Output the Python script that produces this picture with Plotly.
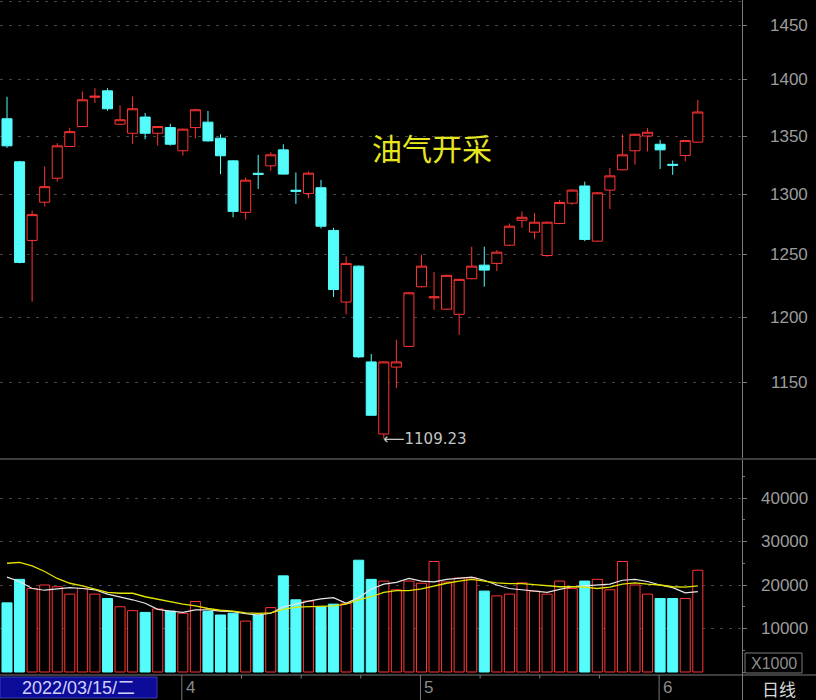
import math
import plotly.graph_objects as go

# ---------------- data ----------------
dates = [
    "2022-03-14", "2022-03-15", "2022-03-16", "2022-03-17", "2022-03-18",
    "2022-03-21", "2022-03-22", "2022-03-23", "2022-03-24", "2022-03-25",
    "2022-03-28", "2022-03-29", "2022-03-30", "2022-03-31",
    "2022-04-01", "2022-04-06", "2022-04-07", "2022-04-08",
    "2022-04-11", "2022-04-12", "2022-04-13", "2022-04-14", "2022-04-15",
    "2022-04-18", "2022-04-19", "2022-04-20", "2022-04-21", "2022-04-22",
    "2022-04-25", "2022-04-26", "2022-04-27", "2022-04-28", "2022-04-29",
    "2022-05-05", "2022-05-06",
    "2022-05-09", "2022-05-10", "2022-05-11", "2022-05-12", "2022-05-13",
    "2022-05-16", "2022-05-17", "2022-05-18", "2022-05-19", "2022-05-20",
    "2022-05-23", "2022-05-24", "2022-05-25", "2022-05-26", "2022-05-27",
    "2022-05-30", "2022-05-31",
    "2022-06-01", "2022-06-02", "2022-06-06", "2022-06-07",
]
opens = [1365.2, 1327.6, 1261.5, 1293.2, 1313.5, 1340.8, 1358.3, 1384.4, 1390.2, 1360.4,
         1352.4, 1366.7, 1352.4, 1357.4, 1337.1, 1357.4, 1362.2, 1348.1, 1328.4, 1284.7,
         1317.7, 1324.1, 1337.9, 1303.3, 1300.6, 1305.4, 1269.7, 1212.0, 1240.6, 1165.8,
         1112.5, 1161.9, 1177.6, 1224.1, 1215.3, 1206.4, 1202.4, 1230.5, 1241.4, 1242.8,
         1257.6, 1278.1, 1268.3, 1249.2, 1275.4, 1292.4, 1306.9, 1260.9, 1303.4, 1320.7,
         1337.1, 1350.0, 1342.8, 1325.4, 1333.0, 1344.6]
highs = [1384.8, 1328.4, 1286.1, 1323.5, 1343.7, 1356.9, 1389.6, 1392.6, 1392.6, 1377.1,
         1385.1, 1370.3, 1358.8, 1360.7, 1356.5, 1374.1, 1372.1, 1351.5, 1328.9, 1314.1,
         1333.6, 1335.9, 1342.8, 1318.4, 1319.2, 1312.1, 1271.9, 1248.6, 1241.2, 1171.8,
         1166.2, 1182.7, 1219.8, 1250.0, 1235.8, 1233.7, 1230.5, 1256.3, 1256.3, 1253.5,
         1275.4, 1285.5, 1284.2, 1277.0, 1295.1, 1304.1, 1310.6, 1301.6, 1322.2, 1351.5,
         1352.0, 1356.9, 1346.6, 1328.7, 1346.5, 1382.1]
lows = [1339.7, 1242.9, 1212.3, 1289.6, 1310.6, 1340.5, 1357.8, 1379.2, 1372.3, 1359.9,
        1343.1, 1347.2, 1341.6, 1341.6, 1333.0, 1348.1, 1345.2, 1317.0, 1280.6, 1278.7,
        1304.3, 1319.8, 1316.5, 1291.8, 1296.3, 1271.3, 1216.1, 1202.4, 1168.8, 1125.8,
        1109.23, 1146.1, 1177.1, 1223.6, 1205.9, 1205.9, 1186.5, 1230.0, 1224.1, 1236.6,
        1256.8, 1271.9, 1262.9, 1248.1, 1274.9, 1291.0, 1260.9, 1260.4, 1287.5, 1320.1,
        1325.0, 1336.5, 1321.3, 1316.4, 1327.9, 1344.1]
closes = [1341.4, 1243.6, 1282.8, 1306.3, 1341.4, 1353.8, 1382.1, 1385.3, 1374.1, 1364.3,
          1374.1, 1352.4, 1358.3, 1342.8, 1356.0, 1373.2, 1345.7, 1332.8, 1285.5, 1311.8,
          1316.8, 1333.6, 1317.0, 1302.4, 1317.8, 1273.2, 1221.9, 1242.8, 1169.6, 1126.1,
          1165.8, 1165.8, 1219.3, 1240.6, 1216.1, 1233.2, 1230.0, 1240.6, 1237.4, 1251.9,
          1273.2, 1280.6, 1276.5, 1276.5, 1292.9, 1303.4, 1262.3, 1301.1, 1315.5, 1333.6,
          1351.5, 1353.3, 1337.9, 1324.6, 1346.0, 1371.2]
volumes = [15900, 21300, 19200, 20000, 19600, 17900, 19200, 17900, 16900, 15000,
           14100, 13700, 14500, 14000, 13500, 16200, 13900, 13100, 13500, 11700,
           13100, 14800, 22100, 16600, 16300, 15000, 15600, 15800, 25700, 21300,
           20900, 18900, 20900, 20400, 25400, 20700, 21600, 21600, 18600, 17500,
           17900, 20500, 18600, 17900, 20900, 19200, 20900, 21300, 18900, 25400,
           20000, 17900, 16900, 16900, 16900, 23400]
vol_ma5 = [21800, 20800, 19200, 18800, 19100, 19400, 19200, 18900, 17900, 17300,
           16600, 15800, 14400, 14000, 13700, 14300, 14300, 14000, 13900, 13400,
           13100, 13500, 15000, 15600, 16300, 16800, 17100, 15800, 17100, 19100,
           20200, 20600, 21500, 20900, 20700, 21300, 21500, 21800, 21100, 20000,
           19200, 18900, 18500, 18300, 19000, 19600, 19800, 20000, 20200, 21100,
           21300, 20800, 20000, 19400, 18200, 18500]
vol_ma10 = [25000, 25200, 24400, 23100, 21500, 20400, 19800, 19100, 18300, 18100,
            18100, 17300, 16700, 16200, 15600, 15200, 14600, 14200, 14000, 13600,
            13500, 13600, 14400, 14900, 15000, 15000, 15200, 15600, 16600, 17300,
            18300, 18700, 18700, 19100, 19800, 20400, 20900, 21300, 20900, 20500,
            20300, 20300, 20100, 19800, 19600, 19600, 19500, 19200, 19500, 20200,
            20500, 20200, 20000, 19600, 19500, 19800]
price_ticks = [1150, 1200, 1250, 1300, 1350, 1400, 1450]
vol_ticks = [10000, 20000, 30000, 40000]
title_text = "油气开采"
low_value = 1109.23
date_box_text = "2022/03/15/二"
period_text = "日线"
vol_unit_text = "X1000"

# ---------------- styling ----------------
RED = "#ff3434"
CYAN = "#54fcfc"
AXIS = "#7a7a7a"
GRID = "#464646"
LABEL = "#9c9c9c"
FONT = "Liberation Sans, Arial, sans-serif"
CJK = "Noto Sans CJK SC"

W, H = 816, 700
PLOT_W = 742
def py(px):  # pixel row -> paper y (plot area spans full height)
    return (H - px) / H
def pxx(px):  # pixel column -> paper x
    return px / PLOT_W

idx = list(range(len(dates)))
up = [c >= o for o, c in zip(opens, closes)]

# month starts (derived from dates)
month_starts = [i for i in range(1, len(dates)) if dates[i][5:7] != dates[i - 1][5:7]]
month_labels = [str(int(dates[i][5:7])) for i in month_starts]

fig = go.Figure()

fig.add_trace(go.Candlestick(
    x=idx, open=opens, high=highs, low=lows, close=closes,
    increasing=dict(line=dict(color=RED, width=1), fillcolor="black"),
    decreasing=dict(line=dict(color=CYAN, width=1), fillcolor=CYAN),
    whiskerwidth=0, xaxis="x", yaxis="y", showlegend=False,
    text=dates, hoverinfo="text+y",
))

fig.add_trace(go.Bar(
    x=idx, y=volumes, width=0.8, xaxis="x", yaxis="y2",
    marker=dict(color=["black" if u else CYAN for u in up],
                line=dict(color=[RED if u else CYAN for u in up], width=1)),
    showlegend=False, hovertext=dates,
))
fig.add_trace(go.Scatter(x=idx, y=vol_ma5, mode="lines", xaxis="x", yaxis="y2",
                         line=dict(color="#e6e6e6", width=1.2), showlegend=False))
fig.add_trace(go.Scatter(x=idx, y=vol_ma10, mode="lines", xaxis="x", yaxis="y2",
                         line=dict(color="#e4e400", width=1.3), showlegend=False))

# x mapping: candle i centre at 7 + 12.56*i px
step = 12.56
x_range = [-7 / step, (PLOT_W - 7) / step]

shapes = []
annotations = []

# top dashed border
shapes.append(dict(type="line", xref="paper", yref="paper", x0=0, x1=1, y0=py(1.5), y1=py(1.5),
                   line=dict(color=GRID, width=1, dash="3px,6px")))
# panel separators
for rowpx in (459, 675):
    shapes.append(dict(type="line", xref="paper", yref="paper", x0=0, x1=W / PLOT_W,
                       y0=py(rowpx), y1=py(rowpx), line=dict(color=AXIS, width=1)))

# month separators and quarter ticks in date strip
bounds = month_starts
for k, m in enumerate(bounds):
    shapes.append(dict(type="line", xref="x", yref="y3", x0=m - 0.08, x1=m - 0.08, y0=0, y1=25,
                       line=dict(color=AXIS, width=1)))
    annotations.append(dict(x=m, y=12.5, xref="x", yref="y3", text=month_labels[k],
                            showarrow=False, xanchor="left", yanchor="middle", xshift=1,
                            font=dict(family=FONT, size=17, color="#8a8a8a")))
for a, b in zip(bounds[:-1], bounds[1:]):
    for q in (1, 2, 3):
        xq = a - 0.08 + (b - a) * q / 4
        shapes.append(dict(type="line", xref="x", yref="y3", x0=xq, x1=xq, y0=21.5, y1=25,
                           line=dict(color=AXIS, width=1)))

# date box
shapes.append(dict(type="rect", xref="paper", yref="paper", x0=0, x1=pxx(157),
                   y0=py(698), y1=py(677), fillcolor="#0c0c98", line=dict(color="#3a3ab8", width=1)))
annotations.append(dict(x=pxx(78), y=py(688), xref="paper", yref="paper", text=date_box_text,
                        showarrow=False, xanchor="center", yanchor="middle",
                        font=dict(family=FONT + ", " + CJK, size=18, color="#d0d0ff")))

# period label
annotations.append(dict(x=pxx(779), y=py(688), xref="paper", yref="paper", text=period_text,
                        showarrow=False, xanchor="center", yanchor="middle",
                        font=dict(family=CJK, size=17, color="#d8d8d8")))

# X1000 box
shapes.append(dict(type="rect", xref="paper", yref="paper", x0=pxx(745), x1=pxx(802),
                   y0=py(673), y1=py(653), line=dict(color=AXIS, width=1)))
annotations.append(dict(x=pxx(773.5), y=py(663), xref="paper", yref="paper", text=vol_unit_text,
                        showarrow=False, xanchor="center", yanchor="middle",
                        font=dict(family=FONT, size=16, color="#8c8c8c")))

# axis labels (right aligned)
for v in price_ticks:
    annotations.append(dict(x=pxx(810), y=math.log10(v), xref="paper", yref="y", text=str(v),
                            showarrow=False, xanchor="right", yanchor="middle",
                            font=dict(family=FONT, size=17, color=LABEL)))
for v in vol_ticks:
    annotations.append(dict(x=pxx(810), y=v, xref="paper", yref="y2", text=str(v),
                            showarrow=False, xanchor="right", yanchor="middle",
                            font=dict(family=FONT, size=17, color=LABEL)))

# title
annotations.append(dict(x=pxx(432), y=py(147), xref="paper", yref="paper", text=title_text,
                        showarrow=False, xanchor="center", yanchor="middle",
                        font=dict(family=CJK, size=30, color="#e6e61e")))

# low marker
low_i = lows.index(min(lows))
annotations.append(dict(x=low_i, y=math.log10(low_value), xref="x", yref="y",
                        text="⟵" + f"{low_value:.2f}", showarrow=False,
                        xanchor="left", yanchor="middle", xshift=-3,
                        font=dict(family="DejaVu Sans, " + FONT, size=15, color="#c4c4c4")))

main_lo = 1350 * math.exp(-(458 - 136) / 1540)
main_hi = 1350 * math.exp(136 / 1540)
px_per_k = 4.35 / 1000

fig.update_layout(
    width=W, height=H, margin=dict(l=0, r=W - PLOT_W, t=0, b=0),
    paper_bgcolor="black", plot_bgcolor="black", showlegend=False,
    boxgap=0.2, boxgroupgap=0, bargap=0.2,
    xaxis=dict(range=x_range, showgrid=False, zeroline=False, showticklabels=False,
               ticks="", showline=False, rangeslider=dict(visible=False), fixedrange=True),
    yaxis=dict(type="log", domain=[py(458), 1], range=[math.log10(main_lo), math.log10(main_hi)],
               side="right", anchor="x", tickmode="array", tickvals=price_ticks,
               showticklabels=False, ticks="outside", ticklen=4, tickcolor=AXIS,
               showline=True, linecolor=AXIS, linewidth=1,
               showgrid=True, gridcolor=GRID, griddash="3px,6px", gridwidth=1, zeroline=False),
    yaxis2=dict(domain=[py(675), py(460)], range=[-3 / px_per_k, (672 - 460) / px_per_k],
                side="right", anchor="x", tickmode="array", tickvals=vol_ticks,
                showticklabels=False, ticks="outside", ticklen=4, tickcolor=AXIS,
                minor=dict(dtick=5000, ticks="outside", ticklen=2, tickcolor=AXIS, showgrid=False),
                showline=True, linecolor=AXIS, linewidth=1,
                showgrid=True, gridcolor=GRID, griddash="3px,6px", gridwidth=1, zeroline=False),
    yaxis3=dict(domain=[0, py(675)], range=[0, 25], side="right", anchor="x",
                showticklabels=False, ticks="", showgrid=False, zeroline=False,
                showline=True, linecolor=AXIS, linewidth=1),
    shapes=shapes, annotations=annotations,
)

fig.write_html("out.html", config={"displayModeBar": False},
               post_script="document.body.style.margin='0px';document.body.style.background='black';")
